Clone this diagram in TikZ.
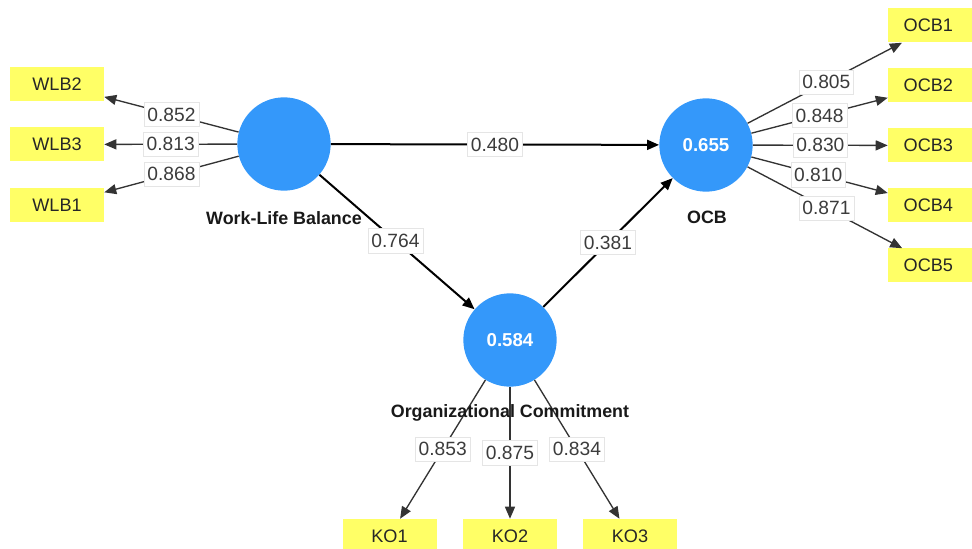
\documentclass[tikz,border=0pt]{standalone}
\usepackage{fontspec}
\setmainfont{Liberation Sans}
\usetikzlibrary{arrows.meta}
\definecolor{lvblue}{RGB}{52,152,250}
\definecolor{indyellow}{RGB}{255,255,102}
\definecolor{labtext}{RGB}{60,60,60}
\tikzset{
  lv/.style={circle, fill=lvblue, minimum size=70pt, inner sep=0pt, text=white, font=\fontsize{14}{16}\selectfont\bfseries},
  ind/.style={rectangle, fill=indyellow, minimum width=70.5pt, minimum height=25.5pt, inner sep=0pt, text=black!85, font=\fontsize{13.6}{15}\selectfont},
  lvname/.style={font=\fontsize{13.4}{15}\selectfont\bfseries, text=black!90, inner sep=0pt},
  elab/.style={fill=white, draw=black!10, line width=0.4pt, inner xsep=2.5pt, inner ysep=4pt, text=labtext, font=\fontsize{14.4}{16}\selectfont},
  structarrow/.style={line width=1.5pt, black, -{Triangle[length=9pt,width=7.5pt]}},
  loadarrow/.style={line width=1pt, black!80, -{Triangle[length=9pt,width=7.5pt]}},
}
\begin{document}
\begin{tikzpicture}[x=0.75pt, y=-0.75pt]
\useasboundingbox (0,0) rectangle (972,549);
% indicators
\node[ind] (wlb2) at (57,84.5) {WLB2};
\node[ind] (wlb3) at (57,144.5) {WLB3};
\node[ind] (wlb1) at (57,205) {WLB1};
\node[ind] (ocb1) at (935,25.5) {\hspace*{-10pt}OCB1};
\node[ind] (ocb2) at (935,85.5) {\hspace*{-10pt}OCB2};
\node[ind] (ocb3) at (935,145.5) {\hspace*{-10pt}OCB3};
\node[ind] (ocb4) at (935,205.5) {\hspace*{-10pt}OCB4};
\node[ind] (ocb5) at (935,265.5) {\hspace*{-10pt}OCB5};
\node[ind] (ko1) at (389.5,536) {KO1};
\node[ind] (ko2) at (510,536) {KO2};
\node[ind] (ko3) at (630,536) {KO3};
% latent variables
\node[lv] (wlb) at (284,144) {};
\node[lv] (ocb) at (706,145) {0.655};
\node[lv] (ko) at (510,340) {0.584};
% loadings
\draw[loadarrow] (wlb) -- (wlb2) node[elab, pos=0.5] {0.852};
\draw[loadarrow] (wlb) -- (wlb3) node[elab, pos=0.5] {0.813};
\draw[loadarrow] (wlb) -- (wlb1) node[elab, pos=0.5] {0.868};
\draw[loadarrow] (ocb) -- (ocb1) node[elab, pos=0.51] {0.805};
\draw[loadarrow] (ocb) -- (ocb2) node[elab, pos=0.5] {0.848};
\draw[loadarrow] (ocb) -- (ocb3) node[elab, pos=0.5] {0.830};
\draw[loadarrow] (ocb) -- (ocb4) node[elab, pos=0.49] {0.810};
\draw[loadarrow] (ocb) -- (ocb5) node[elab, pos=0.51] {0.871};
\draw[loadarrow] (ko) -- (ko1) node[elab, pos=0.5] {0.853};
\draw[loadarrow] (ko) -- (ko2) node[elab, pos=0.5] {0.875};
\draw[loadarrow] (ko) -- (ko3) node[elab, pos=0.5] {0.834};
% structural paths
\draw[structarrow] (wlb) -- (ocb) node[elab, pos=0.5] {0.480};
\draw[structarrow] (wlb) -- (ko) node[elab, pos=0.49] {0.764};
\draw[structarrow] (ko) -- (ocb) node[elab, pos=0.5] {0.381};
% names
\node[lvname] (wlbname) at (284,218) {Work-Life Balance};
\node[lvname] (ocbname) at (707,217) {OCB};
\node[lvname] (koname) at (510,413) {Organizational Commitment};
\end{tikzpicture}
\end{document}
